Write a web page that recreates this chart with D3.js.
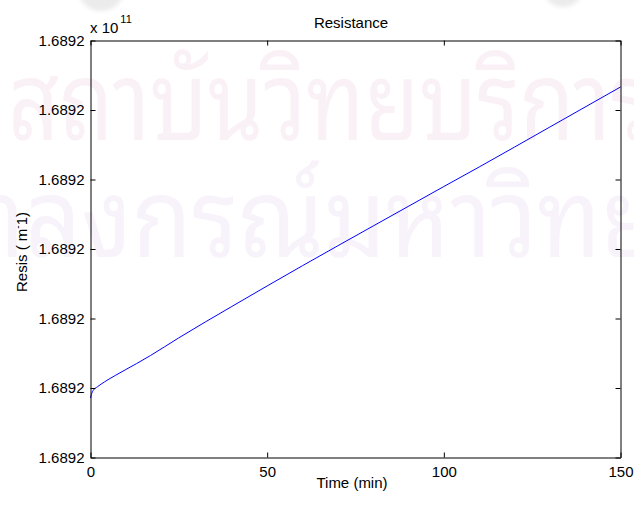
<!DOCTYPE html>
<html>
<head>
<meta charset="utf-8">
<script src="https://cdn.jsdelivr.net/npm/d3@7"></script>
<style>
  html, body { margin: 0; padding: 0; background: #fff; }
  svg { display: block; }
  text { font-family: "Liberation Sans", Arial, sans-serif; fill: #000; }
</style>
</head>
<body>
<svg id="chart" width="634" height="505"></svg>
<script>
// Time axis samples (min)
const timeMin = [0, 0.25, 0.75, 2, 4, 7, 10, 13, 17, 25, 40, 60, 80, 100, 110, 130, 150];
// Specific resistance (m^-1)
const resistance = [
  168920085600, 168920090600, 168920096400, 168920101900, 168920108900,
  168920118000, 168920126600, 168920135000, 168920146800, 168920172200,
  168920217300, 168920276000, 168920333100, 168920389900, 168920418000,
  168920475500, 168920533100
];
const xTickValues = [0, 50, 100, 150];
const yTickValues = [
  168920000000, 168920100000, 168920200000, 168920300000,
  168920400000, 168920500000, 168920600000
];
const yTickLabels = ["1.6892", "1.6892", "1.6892", "1.6892", "1.6892", "1.6892", "1.6892"];
const titleText = "Resistance";
const xLabelText = "Time (min)";
const watermarkLines = ["สถาบันวิทยบริการ", "จุฬาลงกรณ์มหาวิทยาลัย"];

const svg = d3.select("#chart");
const box = { left: 90.5, right: 620.5, top: 40.5, bottom: 457.5 };

const x = d3.scaleLinear().domain([0, 150]).range([box.left, box.right]);
const y = d3.scaleLinear().domain([yTickValues[0], yTickValues[yTickValues.length - 1]])
  .range([box.bottom, box.top]);

// faint background marks
const defs = svg.append("defs");
defs.append("filter").attr("id", "soft").append("feGaussianBlur").attr("stdDeviation", 2);
svg.append("circle").attr("cx", 101).attr("cy", -13).attr("r", 24)
  .attr("fill", "#ebebeb").attr("filter", "url(#soft)");
svg.append("circle").attr("cx", 563).attr("cy", -14).attr("r", 21)
  .attr("fill", "#ebebeb").attr("filter", "url(#soft)");

// watermark rows
const thaiFont = "'Noto Sans Thai Looped','Noto Sans Thai','Loma','Garuda','Norasi',sans-serif";
const wm = svg.append("g").attr("class", "watermark");
wm.append("text")
  .attr("x", 8).attr("y", 140)
  .attr("textLength", 645).attr("lengthAdjust", "spacingAndGlyphs")
  .style("font-family", thaiFont)
  .style("font-size", "110px").style("fill", "#faf1f7")
  .text(watermarkLines[0]);
wm.append("text")
  .attr("x", -137).attr("y", 257)
  .attr("textLength", 955).attr("lengthAdjust", "spacingAndGlyphs")
  .style("font-family", thaiFont)
  .style("font-size", "110px").style("fill", "#f8f3fa")
  .text(watermarkLines[1]);

// data line
const line = d3.line()
  .x((d, i) => x(timeMin[i]))
  .y(d => y(d))
  .curve(d3.curveMonotoneX);
svg.append("path")
  .datum(resistance)
  .attr("d", line)
  .attr("fill", "none")
  .attr("stroke", "#0000ff")
  .attr("stroke-width", 1);

// axes box with inward ticks on all sides
const fontSize = "15px";
const gx = svg.append("g").attr("transform", `translate(0,${box.bottom})`)
  .call(d3.axisBottom(x).tickValues(xTickValues).tickSizeInner(-5).tickSizeOuter(0).tickPadding(9)
    .tickFormat(d3.format("d")));
const gxTop = svg.append("g").attr("transform", `translate(0,${box.top})`)
  .call(d3.axisTop(x).tickValues(xTickValues).tickSizeInner(-5).tickSizeOuter(0).tickFormat(""));
const gy = svg.append("g").attr("transform", `translate(${box.left},0)`)
  .call(d3.axisLeft(y).tickValues(yTickValues).tickSizeInner(-5).tickSizeOuter(0).tickPadding(6)
    .tickFormat((d, i) => yTickLabels[i]));
const gyRight = svg.append("g").attr("transform", `translate(${box.right},0)`)
  .call(d3.axisRight(y).tickValues(yTickValues).tickSizeInner(-5).tickSizeOuter(0).tickFormat(""));

[gx, gxTop, gy, gyRight].forEach(g => {
  g.select(".domain").attr("stroke", "#000").attr("stroke-width", 1);
  g.selectAll(".tick line").attr("stroke", "#000");
  g.selectAll(".tick text").style("font-family", "'Liberation Sans', Arial, sans-serif")
    .style("font-size", fontSize).attr("fill", "#000");
});

// title
svg.append("text").attr("x", 351).attr("y", 28).attr("text-anchor", "middle")
  .style("font-size", fontSize).text(titleText);

// x label
svg.append("text").attr("x", 352).attr("y", 488).attr("text-anchor", "middle")
  .style("font-size", fontSize).text(xLabelText);

// y label: Resis ( m^-1)
const yl = svg.append("text")
  .attr("transform", `translate(26.5,252) rotate(-90)`)
  .attr("text-anchor", "middle")
  .style("font-size", fontSize);
yl.append("tspan").text("Resis ( m");
yl.append("tspan").attr("dy", -6).style("font-size", "10px").text("-");
yl.append("tspan").attr("dy", 6).text("1)");

// exponent multiplier
const ex = svg.append("text").attr("x", 90).attr("y", 32.5).style("font-size", fontSize);
ex.append("tspan").text("x 10");
ex.append("tspan").attr("dy", -10).attr("dx", 2).style("font-size", "11px").text("11");
</script>
</body>
</html>
